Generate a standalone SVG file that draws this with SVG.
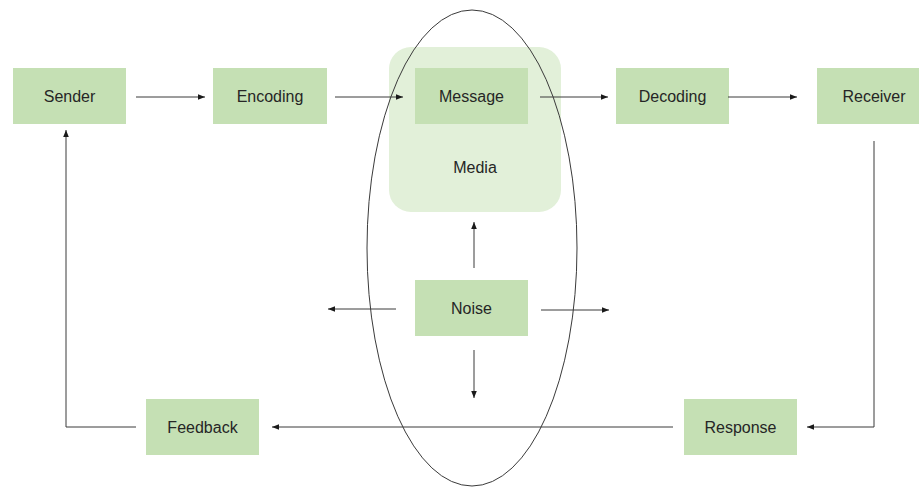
<svg xmlns="http://www.w3.org/2000/svg" width="919" height="489" viewBox="0 0 919 489">
<style>
.box{fill:#C5E0B4}
.lbl{font-family:"Liberation Sans","Open Sans",sans-serif;font-size:16px;fill:#262626;text-anchor:middle;dominant-baseline:central}
.ln{fill:none;stroke:#3a3a3a;stroke-width:1}
</style>
<defs>
<marker id="ah" viewBox="0 0 10 10" refX="10" refY="5" markerWidth="7" markerHeight="7" markerUnits="userSpaceOnUse" orient="auto">
<path d="M0,1 L10,5 L0,9 z" fill="#1a1a1a"/>
</marker>
</defs>
<rect width="919" height="489" fill="#ffffff"/>
<g id="media">
<rect x="389" y="47" width="172" height="165" rx="22" fill="#E2F0D9"/>
<text class="lbl" x="475" y="167">Media</text>
</g>
<g id="sender"><rect class="box" x="13" y="68" width="113" height="56"/><text class="lbl" x="69.5" y="96">Sender</text></g>
<g id="encoding"><rect class="box" x="213" y="68" width="114" height="56"/><text class="lbl" x="270" y="96">Encoding</text></g>
<g id="message"><rect class="box" x="415" y="68" width="113" height="56"/><text class="lbl" x="471.5" y="96">Message</text></g>
<g id="decoding"><rect class="box" x="616" y="68" width="113" height="56"/><text class="lbl" x="672.5" y="96">Decoding</text></g>
<g id="receiver"><rect class="box" x="817" y="68" width="110" height="56"/><text class="lbl" x="874" y="96">Receiver</text></g>
<g id="noise"><rect class="box" x="415" y="280" width="113" height="56"/><text class="lbl" x="471.5" y="308">Noise</text></g>
<g id="feedback"><rect class="box" x="146" y="399" width="113" height="56"/><text class="lbl" x="202.5" y="427">Feedback</text></g>
<g id="response"><rect class="box" x="684" y="399" width="113" height="56"/><text class="lbl" x="740.5" y="427">Response</text></g>
<g id="ellipse">
<ellipse cx="472" cy="248" rx="105" ry="238" fill="none" stroke="#3a3a3a" stroke-width="1"/>
</g>
<g id="connectors">
<path class="ln" d="M136,97 H205" marker-end="url(#ah)"/>
<path class="ln" d="M335,97 H403" marker-end="url(#ah)"/>
<path class="ln" d="M540,97 H608" marker-end="url(#ah)"/>
<path class="ln" d="M728,97 H797" marker-end="url(#ah)"/>
<path class="ln" d="M874,141 V427 H807" marker-end="url(#ah)"/>
<path class="ln" d="M673,427 H272" marker-end="url(#ah)"/>
<path class="ln" d="M136,427 H66 V130" marker-end="url(#ah)"/>
<path class="ln" d="M474,268 V222" marker-end="url(#ah)"/>
<path class="ln" d="M396,309 H328" marker-end="url(#ah)"/>
<path class="ln" d="M541,310 H609" marker-end="url(#ah)"/>
<path class="ln" d="M474,350 V398" marker-end="url(#ah)"/>
</g>
</svg>
